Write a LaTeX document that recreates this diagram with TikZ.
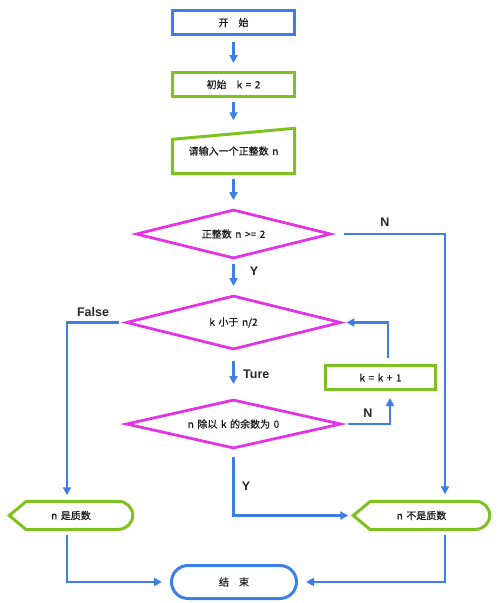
\documentclass[tikz,border=0pt]{standalone}
\usepackage{fontspec}
\setmainfont{Noto Sans CJK SC}[FakeBold=0.5,WordSpace=1.6]
\newfontfamily\lblfont{Liberation Sans}
\usetikzlibrary{shapes.geometric,shapes.misc,arrows.meta,calc}
\definecolor{fblue}{HTML}{3D7FE6}
\definecolor{fgreen}{HTML}{7DC21E}
\definecolor{fmag}{HTML}{E234E2}
\begin{document}
\begin{tikzpicture}[x=1pt,y=-1pt,
  txt/.style={font=\fontsize{10}{11}\selectfont, inner sep=0pt, text=black!90},
  bluebox/.style={txt, draw=fblue, line width=3pt, minimum width=122pt, minimum height=24pt},
  greenbox/.style={txt, draw=fgreen, line width=3pt, minimum width=122pt, minimum height=24pt},
  gline/.style={draw=fgreen, line width=3pt},
  dia/.style={txt, diamond, aspect=4, draw=fmag, line width=2.8pt},
  arr/.style={draw=fblue, line width=2.6pt, -{Triangle[length=8pt,width=8pt]}},
  lbl/.style={font=\lblfont\bfseries\fontsize{12.5}{14}\selectfont, inner sep=0pt, text=black!85}]
\useasboundingbox (0,0) rectangle (500,603);

\node[bluebox] (start) at (233.5,22.5) {开\quad 始};
\node[greenbox] (init) at (233.5,84.5) {初始\quad k = 2};
\node[txt, minimum width=122pt, minimum height=45pt] (inp) at (233.5,151) {请输入一个正整数 n};
\draw[gline] (inp.south west) -- (inp.south east) -- (inp.north east) -- ($(inp.north west)+(0,11)$) -- cycle;

\node[dia, minimum width=195pt, minimum height=49pt] (d1) at (233.5,234) {正整数 n >= 2};
\node[dia, minimum width=215pt, minimum height=54pt] (d2) at (233.5,322.5) {k 小于 n/2};
\node[dia, minimum width=215pt, minimum height=49pt] (d3) at (233.5,424) {n 除以 k 的余数为 0};
\node[greenbox, minimum width=110pt] (kb) at (380.5,377.5) {k = k + 1};

% display shapes
\node[txt, minimum width=123pt, minimum height=28pt] (prime) at (71,515.5) {n 是质数};
\draw[gline] (prime.west) -- ($(prime.north west)+(17,0)$) -- ($(prime.north east)+(-14,0)$)
  arc(-90:90:14) -- ($(prime.south west)+(17,0)$) -- cycle;
\node[txt, minimum width=136pt, minimum height=28pt] (np) at (421.5,515.5) {n 不是质数};
\draw[gline] (np.west) -- ($(np.north west)+(17,0)$) -- ($(np.north east)+(-14,0)$)
  arc(-90:90:14) -- ($(np.south west)+(17,0)$) -- cycle;

\node[txt, rounded rectangle, draw=fblue, line width=3pt, minimum width=125pt, minimum height=33pt] (end) at (234,582) {结\quad 束};

% connectors
\draw[arr, shorten <=6pt, shorten >=8pt] (start) -- (init);
\draw[arr, shorten <=4pt, shorten >=8pt] (init) -- (inp);
\draw[arr, shorten <=5pt, shorten >=8pt] (inp) -- (d1);
\draw[arr, shorten <=4pt, shorten >=8pt] (d1) -- (d2);
\draw[arr, shorten <=10pt, shorten >=14pt] (d2) -- (d3);
\draw[arr, shorten <=12pt, shorten >=7pt] (d1.east) -| ($(np.north)+(23.5,0)$);
\draw[arr, shorten <=6pt, shorten >=6pt] (d2.west) -| ($(prime.north)+(-4,0)$);
\draw[arr, shorten <=6pt, shorten >=7pt] (d3.east) -| ($(kb.south)+(9.5,0)$);
\draw[arr, shorten <=6pt, shorten >=4pt] ($(kb.north)+(7.5,0)$) |- (d2.east);
\draw[arr, shorten <=7pt, shorten >=5pt] (d3.south) |- (np.west);
\draw[arr, shorten <=5pt, shorten >=8pt] ($(prime.south)+(-4,0)$) |- (end.west);
\draw[arr, shorten <=5pt, shorten >=8pt] ($(np.south)+(23.5,0)$) |- (end.east);

% labels
\node[lbl] (lN1) at (385,222) {N};
\node[lbl] (lY1) at (254,271) {Y};
\node[lbl] (lF) at (93,312) {False};
\node[lbl, anchor=west] (lT) at (243,374) {Ture};
\node[lbl] (lN2) at (368,413) {N};
\node[lbl] (lY2) at (246,486) {Y};
\end{tikzpicture}
\end{document}
